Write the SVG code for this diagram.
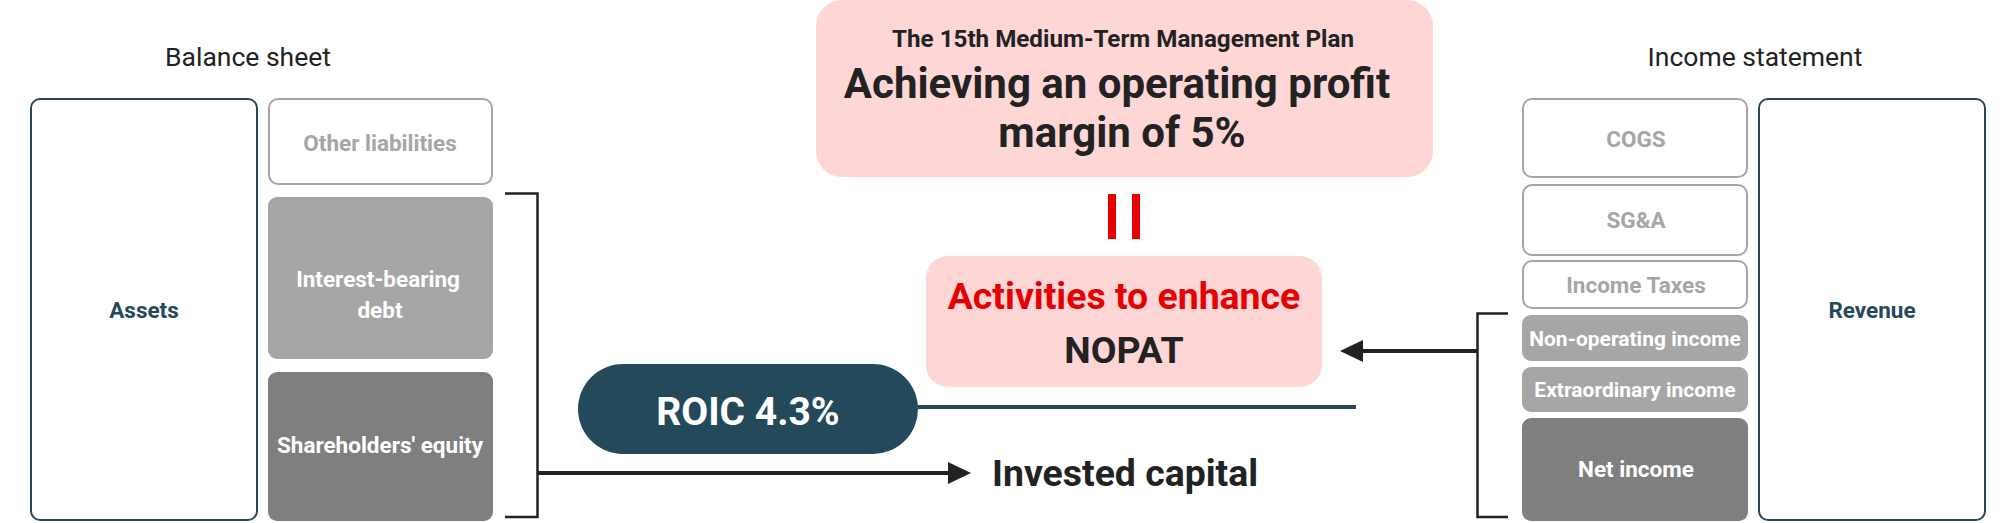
<svg xmlns="http://www.w3.org/2000/svg" width="2016" height="523" viewBox="0 0 2016 523">
<defs>
<style>
text{font-family:Roboto,"Liberation Sans",Arial,sans-serif;text-anchor:middle;}
.title{font-size:26.5px;fill:#222;}
.b{font-weight:bold;}
.sm{font-size:22.5px;font-weight:bold;}
.xs{font-size:21px;font-weight:bold;}
.outline{fill:#fff;stroke:#a6a6a6;stroke-width:2;}
.teal{fill:#fff;stroke:#23495a;stroke-width:2;}
.light{fill:#a6a6a6;}
.dark{fill:#7f7f7f;}
.gt{fill:#a6a6a6;}
.wt{fill:#fff;}
.tt{fill:#23495a;}
.pink{fill:#fed6d6;}
.conn{fill:none;stroke:#222;}
</style>
</defs>
<rect width="2016" height="523" fill="#fff"/>
<text class="title" x="248" y="66">Balance sheet</text>
<text class="title" x="1755" y="66">Income statement</text>

<g id="assets"><rect class="teal" x="31" y="99" width="226" height="421" rx="9"/><text class="sm tt" x="144" y="318">Assets</text></g>
<g id="other-liabilities"><rect class="outline" x="269" y="99" width="223" height="85" rx="9"/><text class="sm gt" x="380" y="151">Other liabilities</text></g>
<g id="interest-bearing-debt"><rect class="light" x="268" y="197" width="225" height="162" rx="9"/><text class="sm wt"><tspan x="378" y="287">Interest-bearing</tspan><tspan x="380" y="318">debt</tspan></text></g>
<g id="shareholders-equity"><rect class="dark" x="268" y="372" width="225" height="149" rx="9"/><text class="sm wt" x="380" y="453">Shareholders' equity</text></g>

<g id="cogs"><rect class="outline" x="1523" y="99" width="224" height="78" rx="9"/><text class="sm gt" x="1636" y="147">COGS</text></g>
<g id="sga"><rect class="outline" x="1523" y="185" width="224" height="70" rx="9"/><text class="sm gt" x="1636" y="228">SG&amp;A</text></g>
<g id="income-taxes"><rect class="outline" x="1523" y="261" width="224" height="47" rx="9"/><text class="sm gt" x="1636" y="293">Income Taxes</text></g>
<g id="non-operating-income"><rect class="light" x="1522" y="315" width="226" height="46" rx="9"/><text class="xs wt" x="1635" y="346">Non-operating income</text></g>
<g id="extraordinary-income"><rect class="light" x="1522" y="367" width="226" height="45" rx="9"/><text class="xs wt" x="1635" y="397">Extraordinary income</text></g>
<g id="net-income"><rect class="dark" x="1522" y="418" width="226" height="103" rx="9"/><text class="sm wt" x="1636" y="477">Net income</text></g>
<g id="revenue"><rect class="teal" x="1759" y="99" width="226" height="421" rx="9"/><text class="sm tt" x="1872" y="318">Revenue</text></g>

<g id="plan"><rect class="pink" x="816" y="0" width="617" height="177" rx="26"/>
<text class="b" x="1123" y="47" font-size="24.2" fill="#222">The 15th Medium-Term Management Plan</text>
<text class="b" font-size="42" fill="#222"><tspan x="1117" y="97.5">Achieving an operating profit</tspan><tspan x="1122" y="147">margin of 5%</tspan></text></g>

<g id="equals"><rect x="1108" y="194" width="8" height="45" fill="#e60000"/><rect x="1132" y="194" width="8" height="45" fill="#e60000"/></g>

<g id="nopat"><rect class="pink" x="926" y="256" width="396" height="131" rx="22"/>
<text class="b" font-size="37.4"><tspan x="1124" y="309" fill="#e60000">Activities to enhance</tspan><tspan x="1124" y="363" fill="#222">NOPAT</tspan></text></g>

<g id="roic"><rect x="578" y="364" width="340" height="90" rx="45" fill="#23495a"/><text class="b wt" x="748" y="425" font-size="39">ROIC 4.3%</text></g>

<g id="invested-capital"><text class="b" x="992" y="486" font-size="37.4" fill="#222" style="text-anchor:start">Invested capital</text></g>

<g id="connectors">
<path class="conn" stroke-width="2.5" d="M505,193.5H537.5V517H505"/>
<line x1="537" y1="473" x2="950" y2="473" stroke="#222" stroke-width="4"/>
<polygon points="948,462 971,473 948,484" fill="#222"/>
<path class="conn" stroke-width="2.5" d="M1508,313.5H1477.5V517H1508"/>
<line x1="1477" y1="351" x2="1361" y2="351" stroke="#222" stroke-width="4"/>
<polygon points="1363,340 1340,351 1363,362" fill="#222"/>
<line x1="918" y1="407" x2="1356" y2="407" stroke="#23495a" stroke-width="4"/>
</g>
</svg>
